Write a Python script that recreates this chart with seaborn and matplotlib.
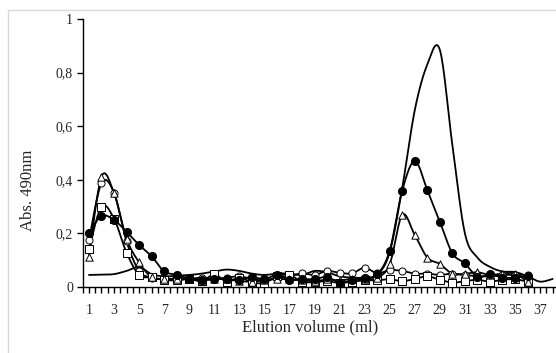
import matplotlib
matplotlib.use("Agg")
import matplotlib.pyplot as plt
import seaborn as sns
import numpy as np
import pandas as pd
from matplotlib.patches import Rectangle

# Elution profiles, Abs. 490nm per ml fraction
fractions = list(range(1, 37))
filled_circle = [0.200, 0.265, 0.250, 0.206, 0.157, 0.115, 0.058, 0.046, 0.030, 0.026,
                 0.029, 0.030, 0.026, 0.038, 0.029, 0.045, 0.026, 0.029, 0.029, 0.038,
                 0.016, 0.026, 0.035, 0.047, 0.136, 0.360, 0.470, 0.362, 0.244, 0.126,
                 0.088, 0.038, 0.047, 0.035, 0.035, 0.041]
open_triangle = [0.113, 0.412, 0.350, 0.180, 0.092, 0.036, 0.030, 0.028, 0.030, 0.025,
                 0.030, 0.028, 0.022, 0.020, 0.025, 0.030, 0.028, 0.025, 0.022, 0.028,
                 0.025, 0.030, 0.028, 0.035, 0.085, 0.269, 0.194, 0.110, 0.086, 0.049,
                 0.049, 0.055, 0.045, 0.050, 0.050, 0.020]
open_circle = [0.175, 0.388, 0.352, 0.170, 0.060, 0.035, 0.030, 0.032, 0.030, 0.035,
               0.030, 0.035, 0.040, 0.030, 0.025, 0.035, 0.040, 0.051, 0.045, 0.060,
               0.053, 0.051, 0.072, 0.051, 0.063, 0.060, 0.050, 0.050, 0.045, 0.050,
               0.045, 0.040, 0.040, 0.045, 0.045, 0.045]
open_square = [0.141, 0.300, 0.255, 0.128, 0.045, 0.036, 0.026, 0.025, 0.030, 0.022,
               0.047, 0.020, 0.035, 0.018, 0.015, 0.040, 0.045, 0.020, 0.018, 0.022,
               0.015, 0.020, 0.025, 0.025, 0.029, 0.022, 0.030, 0.040, 0.027, 0.016,
               0.022, 0.027, 0.020, 0.027, 0.029, 0.020]
line_fractions = list(range(1, 39))
plain_line = [0.045, 0.046, 0.048, 0.060, 0.074, 0.048, 0.040, 0.042, 0.045, 0.050,
              0.058, 0.065, 0.060, 0.050, 0.045, 0.050, 0.050, 0.045, 0.060, 0.055,
              0.040, 0.035, 0.035, 0.045, 0.130, 0.370, 0.660, 0.830, 0.885, 0.530,
              0.200, 0.110, 0.075, 0.058, 0.056, 0.040, 0.020, 0.030]

y_ticks = [0, 0.2, 0.4, 0.6, 0.8, 1.0]
y_tick_labels = ["0", "0,2", "0,4", "0,6", "0,8", "1"]
x_tick_labels = list(range(1, 38, 2))


def smooth(x, y, n=16):
    # Excel-style smoothed line (Catmull-Rom through the points)
    x = np.asarray(x, float)
    y = np.asarray(y, float)
    xs, ys = [], []
    t = np.linspace(0, 1, n, endpoint=False)
    for i in range(len(x) - 1):
        i0, i3 = max(i - 1, 0), min(i + 2, len(x) - 1)
        for arr, out in ((x, xs), (y, ys)):
            p0, p1, p2, p3 = arr[i0], arr[i], arr[i + 1], arr[i3]
            c1 = p1 + (p2 - p0) / 6
            c2 = p2 - (p3 - p1) / 6
            out.extend((1 - t) ** 3 * p1 + 3 * (1 - t) ** 2 * t * c1
                       + 3 * (1 - t) * t ** 2 * c2 + t ** 3 * p2)
    xs.append(x[-1])
    ys.append(y[-1])
    return pd.DataFrame({"x": xs, "y": ys})


sns.set_style("white")
plt.rcParams["font.family"] = ["Liberation Serif", "DejaVu Serif"]

fig = plt.figure(figsize=(5.56, 3.53), dpi=100)
ax = fig.add_axes([82.7 / 556, 66 / 353, (556 - 82.7) / 556, 268 / 353])

# figure frame (light gray, partially clipped)
fig.patches.append(Rectangle((8 / 556, -0.1), 1.2, 1.1 - 10 / 353,
                             transform=fig.transFigure, fill=False,
                             edgecolor="#d9d9d9", linewidth=1.0))

lw = 1.3
sl = smooth(line_fractions, plain_line)
sns.lineplot(data=sl, x="x", y="y", ax=ax, color="black", lw=lw,
             sort=False, estimator=None)

series = [
    (open_circle, "o", "white", 26),
    (open_square, "s", "white", 26),
    (open_triangle, "^", "white", 28),
    (filled_circle, "o", "black", 34),
]
for vals, mk, fc, size in series:
    s = smooth(fractions, vals)
    sns.lineplot(data=s, x="x", y="y", ax=ax, color="black", lw=lw,
                 sort=False, estimator=None)
    pts = pd.DataFrame({"x": fractions, "y": vals})
    sns.scatterplot(data=pts, x="x", y="y", ax=ax, marker=mk, s=size,
                    facecolor=fc, edgecolor="black", linewidth=0.7, zorder=3)

ticks = np.arange(0.5, 38.3, 0.5)
ax.set_xlim(0.5, 38.27)
ax.set_ylim(0, 1)
ax.set_xticks(ticks)
ax.set_xticklabels([str(int(v)) if (v == int(v) and int(v) in x_tick_labels) else ""
                    for v in ticks])
ax.set_yticks(y_ticks)
ax.set_yticklabels(y_tick_labels)
ax.tick_params(axis="x", direction="out", length=4, width=1, pad=8,
               labelsize=10, color="black", bottom=True)
ax.tick_params(axis="y", direction="out", length=4, width=1, pad=3,
               labelsize=10, color="black", left=True)
for side in ["top", "right"]:
    ax.spines[side].set_visible(False)
for side in ["left", "bottom"]:
    ax.spines[side].set_color("black")
    ax.spines[side].set_linewidth(1.0)
ax.set_xlabel("")
ax.set_ylabel("")

fig.text(28 / 556, 1 - 190 / 353, "Abs. 490nm", rotation=90,
         ha="center", va="center", fontsize=12)
fig.text(310 / 556, 1 - 327 / 353, "Elution volume (ml)",
         ha="center", va="center", fontsize=12)

fig.savefig("out.png", dpi=100)
